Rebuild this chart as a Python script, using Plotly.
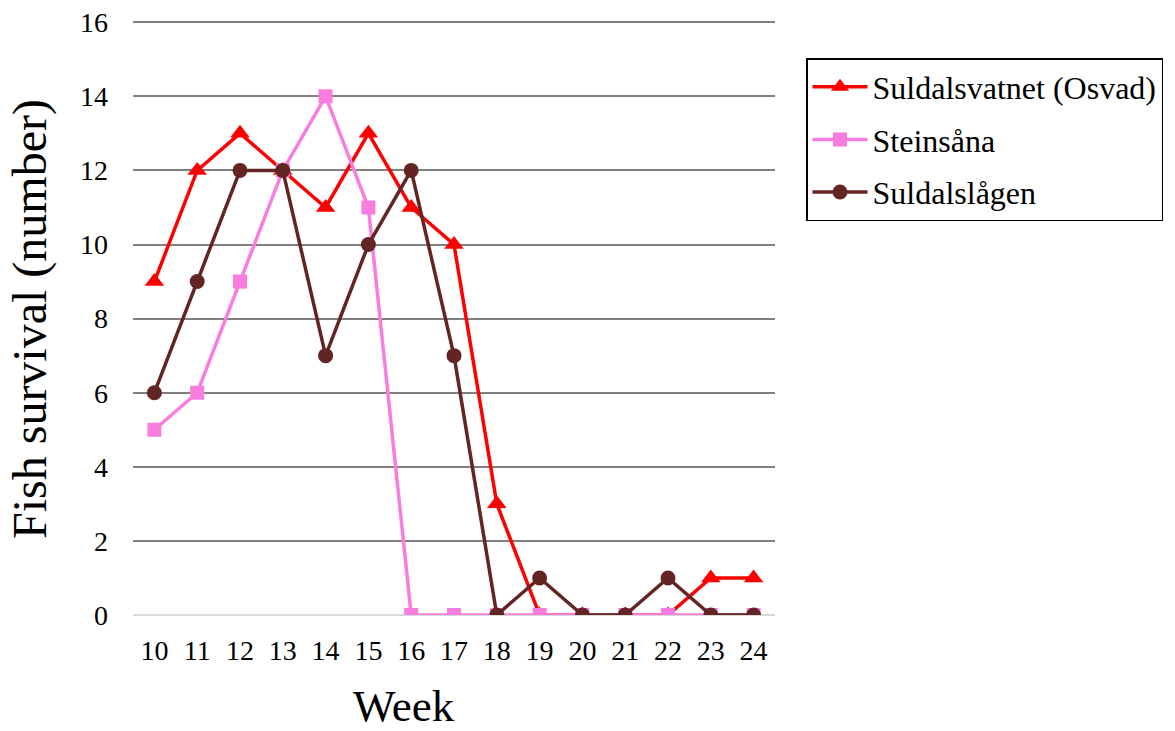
import plotly.graph_objects as go

weeks = [10, 11, 12, 13, 14, 15, 16, 17, 18, 19, 20, 21, 22, 23, 24]
osvad = [9, 12, 13, 12, 11, 13, 11, 10, 3, 0, 0, 0, 0, 1, 1]
steinsana = [5, 6, 9, 12, 14, 11, 0, 0, 0, 0, 0, 0, 0, 0, 0]
suldalslagen = [6, 9, 12, 12, 7, 10, 12, 7, 0, 1, 0, 0, 1, 0, 0]

series = [
    ("Suldalsvatnet (Osvad)", osvad, "#FF0000", "triangle-up", 17),
    ("Steinsåna", steinsana, "#F97DDF", "square", 14),
    ("Suldalslågen", suldalslagen, "#632523", "circle", 15),
]

FONT = "Liberation Serif"

fig = go.Figure()
for i, (name, vals, col, sym, sz) in enumerate(series):
    fig.add_trace(go.Scatter(
        x=weeks, y=vals, name=name, mode="lines+markers",
        line=dict(color=col, width=3.5),
        marker=dict(symbol=sym, size=sz, color=col),
        legendgroup=f"g{i}",
    ))

T, B, L, R = 20, 116, 133, 400
H = 731 - T - B
W = 1175 - L - R

def px_x(p):
    return (p - L) / W

def px_y(p):
    return (731 - B - p) / H

fig.update_layout(
    width=1175, height=731,
    margin=dict(l=L, r=R, t=T, b=B, autoexpand=False),
    paper_bgcolor="white", plot_bgcolor="white",
    font=dict(family=FONT, color="black"),
    showlegend=True,
    legend=dict(
        x=px_x(806), y=px_y(58), xanchor="left", yanchor="top",
        bordercolor="black", borderwidth=1.5,
        font=dict(family=FONT, size=32, color="black"),
        itemwidth=55, tracegroupgap=8,
        bgcolor="white",
    ),
    xaxis=dict(
        range=[9.5, 24.5], tickmode="array", tickvals=weeks,
        ticktext=[str(w) for w in weeks],
        showgrid=False, zeroline=False, showline=False, automargin=False,
        ticks="", tickfont=dict(family=FONT, size=28, color="black"),
        ticklabelstandoff=16,
    ),
    yaxis=dict(
        range=[0, 16.06], dtick=2, tick0=0, automargin=False,
        showgrid=True, gridcolor="#808080", gridwidth=1.6,
        zeroline=True, zerolinecolor="#D9D9D9", zerolinewidth=2,
        showline=False, ticks="",
        tickfont=dict(family=FONT, size=28, color="black"),
        ticklabelstandoff=24,
    ),
    annotations=[
        dict(text="Week", xref="paper", yref="paper",
             x=px_x(404), y=px_y(706),
             xanchor="center", yanchor="middle", showarrow=False,
             font=dict(family=FONT, size=45, color="black")),
        dict(text="Fish survival (number)", xref="paper", yref="paper",
             x=px_x(30), y=px_y(319), textangle=-90,
             xanchor="center", yanchor="middle", showarrow=False,
             font=dict(family=FONT, size=48, color="black")),
    ],
)

fig.write_html("out.html")
